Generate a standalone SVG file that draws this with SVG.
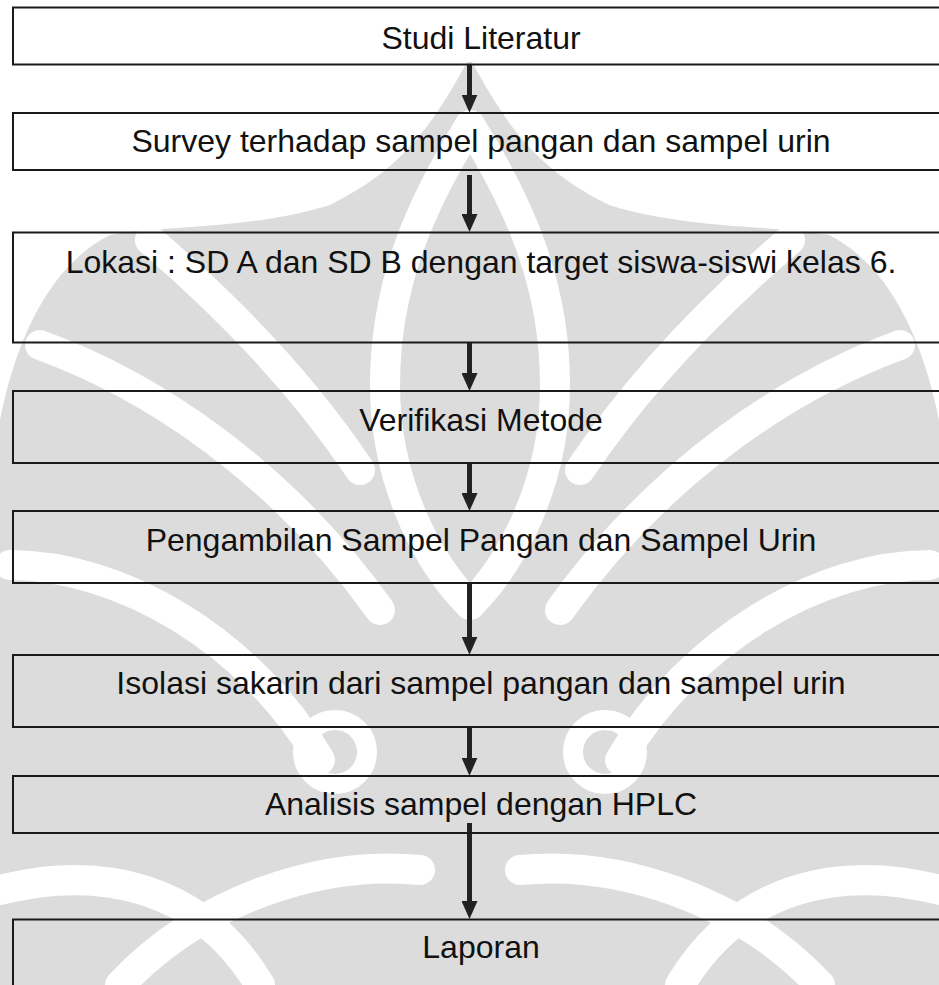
<svg xmlns="http://www.w3.org/2000/svg" width="939" height="985" viewBox="0 0 939 985">
<style>
.box{fill:none;stroke:#1a1a1a;stroke-width:2}
.lbl{font-family:"Liberation Sans",Arial,sans-serif;font-size:32px;fill:#111;text-anchor:middle}
.arr{stroke:#222;stroke-width:5;fill:none;marker-end:url(#ah)}
.wm{fill:#dcdcdc}
.band{fill:none;stroke:#fff;stroke-width:30;stroke-linecap:round}
</style>
<defs>
<marker id="ah" markerUnits="userSpaceOnUse" markerWidth="18" markerHeight="16" viewBox="0 0 18 16" refX="8" refY="8" orient="auto">
<path d="M0,0 L18,8 L0,16 Z" fill="#222"/>
</marker>
<g id="wmhalf">
<path class="band" d="M150,240 C220,300 300,380 360,470"/>
<path class="band" d="M40,345 C150,385 280,470 380,610"/>
<path class="band" d="M10,565 C120,565 250,640 320,760"/>
<path class="band" d="M470,125 C420,205 385,285 385,385 C385,485 430,565 470,605"/>
<circle cx="335" cy="752" r="32" fill="none" stroke="#fff" stroke-width="20"/>
<path class="band" d="M0,890 C100,865 200,885 260,985"/>
<path class="band" d="M120,985 C200,900 320,860 420,870"/>
</g>
</defs>
<g id="watermark">
<path class="wm" d="M467,62 C430,130 400,170 330,205 C250,230 160,225 110,235 C60,260 20,320 0,420 L0,985 L939,985 L939,420 C919,320 879,260 829,235 C779,225 689,230 609,205 C539,170 509,130 472,62 Z"/>
<use href="#wmhalf"/>
<use href="#wmhalf" transform="matrix(-1,0,0,1,940,0)"/>
</g>
<g id="connectors">
<line class="arr" x1="469.5" y1="64.5" x2="469.5" y2="102.7"/>
<line class="arr" x1="469.5" y1="175" x2="469.5" y2="222"/>
<line class="arr" x1="469.5" y1="343" x2="469.5" y2="381"/>
<line class="arr" x1="469.5" y1="463" x2="469.5" y2="501"/>
<line class="arr" x1="469.5" y1="583.5" x2="469.5" y2="644.7"/>
<line class="arr" x1="469.5" y1="727" x2="469.5" y2="765.7"/>
<line class="arr" x1="469.5" y1="823" x2="469.5" y2="909"/>
</g>
<g id="n1"><rect class="box" x="13" y="7.5" width="937" height="57"/><text class="lbl" x="481" y="48.5">Studi Literatur</text></g>
<g id="n2"><rect class="box" x="13" y="113" width="937" height="57"/><text class="lbl" x="481" y="152">Survey terhadap sampel pangan dan sampel urin</text></g>
<g id="n3"><rect class="box" x="13" y="232.5" width="937" height="110"/><text class="lbl" x="481" y="273.3">Lokasi : SD A dan SD B dengan target siswa-siswi kelas 6.</text></g>
<g id="n4"><rect class="box" x="13" y="391" width="937" height="72"/><text class="lbl" x="481" y="430.7">Verifikasi Metode</text></g>
<g id="n5"><rect class="box" x="13" y="511" width="937" height="72"/><text class="lbl" x="481" y="550.7">Pengambilan Sampel Pangan dan Sampel Urin</text></g>
<g id="n6"><rect class="box" x="13" y="655" width="937" height="72"/><text class="lbl" x="481" y="694.3">Isolasi sakarin dari sampel pangan dan sampel urin</text></g>
<g id="n7"><rect class="box" x="13" y="776" width="937" height="57"/><text class="lbl" x="481" y="815">Analisis sampel dengan HPLC</text></g>
<g id="n8"><rect class="box" x="13" y="919.5" width="937" height="80"/><text class="lbl" x="481" y="958.3">Laporan</text></g>
</svg>
